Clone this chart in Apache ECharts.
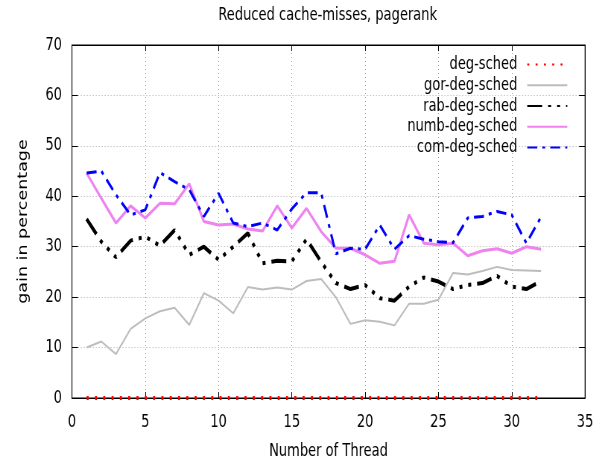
<!DOCTYPE html>
<html>
<head>
<meta charset="utf-8">
<script src="https://cdn.jsdelivr.net/npm/echarts@6/dist/echarts.min.js"></script>
<style>
html,body{margin:0;padding:0;background:#fff;overflow:hidden;}
#wrap{width:602px;height:461px;overflow:hidden;position:relative;}
#chart{width:808px;height:461px;position:absolute;left:0;top:0;transform:scaleX(0.74505);transform-origin:0 0;}
</style>
</head>
<body>
<div id="wrap"><div id="chart"></div></div>
<script>
var threads = [1,2,3,4,5,6,7,8,9,10,11,12,13,14,15,16,17,18,19,20,21,22,23,24,25,26,27,28,29,30,31,32];
var degSched = [0,0,0,0,0,0,0,0,0,0,0,0,0,0,0,0,0,0,0,0,0,0,0,0,0,0,0,0,0,0,0,0];
var gorDegSched = [10.0,11.2,8.7,13.7,15.8,17.2,17.9,14.5,20.8,19.3,16.8,22.0,21.5,21.9,21.5,23.2,23.6,20.0,14.7,15.4,15.1,14.4,18.7,18.7,19.5,24.8,24.5,25.2,26.0,25.4,25.3,25.2];
var rabDegSched = [35.5,31.0,27.9,31.2,32.0,30.2,33.3,28.4,30.0,27.4,30.0,32.7,26.7,27.2,27.1,31.5,27.0,22.8,21.6,22.4,19.8,19.3,22.1,23.9,23.1,21.6,22.4,22.8,24.2,22.1,21.6,23.2];
var numbDegSched = [44.6,39.6,34.7,38.1,35.7,38.6,38.5,42.5,35.0,34.3,34.5,33.5,33.1,38.1,33.7,37.6,33.0,29.7,29.7,28.4,26.7,27.1,36.3,30.7,30.4,30.7,28.2,29.2,29.6,28.7,30.0,29.5];
var comDegSched = [44.6,45.0,40.3,36.3,37.3,44.7,42.9,41.3,36.0,40.6,34.7,34.0,34.7,33.3,37.5,40.7,40.7,28.6,29.7,29.5,34.3,29.5,32.2,31.5,31.0,30.8,35.7,36.0,37.0,36.3,30.7,35.9];
var seriesNames = ['deg-sched','gor-deg-sched','rab-deg-sched','numb-deg-sched','com-deg-sched'];

function pairs(vals){ return threads.map(function(t,i){ return [t, vals[i]]; }); }

var font = "'DejaVu Sans', sans-serif";
var fs = 17.5;
var chart = echarts.init(document.getElementById('chart'), null, {renderer:'canvas', width:808, height:461});
var splitStyle = {show:true, lineStyle:{color:'#a0a0a0', type:[1,3], width:1}};
chart.setOption({
  animation:false,
  backgroundColor:'#fff',
  title:{
    text:'Reduced cache-misses, pagerank',
    left:293, top:6, padding:0,
    textStyle:{fontFamily:font, fontSize:fs, fontWeight:'normal', color:'#000'}
  },
  legend:{
    data:seriesNames,
    orient:'vertical', align:'right',
    right:45.6, top:54, padding:0,
    itemWidth:53.7, itemHeight:14, itemGap:0,
    itemStyle:{opacity:0},
    textStyle:{fontFamily:font, fontSize:fs, color:'#000', lineHeight:20.8, padding:[0,8.4,0,0]}
  },
  grid:{left:96.6, right:22.8, top:45, bottom:63, show:true, borderColor:'#000', borderWidth:1,
        containLabel:false, outerBoundsMode:'none'},
  xAxis:[{
    type:'value', min:0, max:35, interval:5,
    name:'Number of Thread', nameLocation:'middle', nameGap:44,
    nameTextStyle:{fontFamily:font, fontSize:fs, color:'#000'},
    axisLine:{show:true, onZero:false, lineStyle:{color:'#000', width:1}},
    axisTick:{show:true, inside:true, length:6, lineStyle:{color:'#000'}},
    axisLabel:{fontFamily:font, fontSize:fs, color:'#000', margin:15},
    splitLine:splitStyle
  },{
    type:'value', min:0, max:35, interval:5, position:'top',
    axisLine:{show:true, onZero:false, lineStyle:{color:'#000', width:1}},
    axisTick:{show:true, inside:true, length:6, lineStyle:{color:'#000'}},
    axisLabel:{show:false}, splitLine:{show:false}
  }],
  yAxis:[{
    type:'value', min:0, max:70, interval:10,
    name:'gain in percentage', nameLocation:'middle', nameGap:56, nameRotate:90,
    nameTextStyle:{fontFamily:font, fontSize:fs, color:'#000'},
    axisLine:{show:true, onZero:false, lineStyle:{color:'#000', width:1}},
    axisTick:{show:true, inside:true, length:8, lineStyle:{color:'#000'}},
    axisLabel:{fontFamily:font, fontSize:fs, color:'#000', margin:13.4},
    splitLine:splitStyle
  },{
    type:'value', min:0, max:70, interval:10, position:'right',
    axisLine:{show:true, onZero:false, lineStyle:{color:'#000', width:1}},
    axisTick:{show:true, inside:true, length:8, lineStyle:{color:'#000'}},
    axisLabel:{show:false}, splitLine:{show:false}
  }],
  series:[
    {name:'deg-sched', type:'line', data:pairs(degSched), symbol:'none', clip:false,
     color:'#ff0000', lineStyle:{color:'#ff0000', width:4, type:[2.7,8.45]}},
    {name:'gor-deg-sched', type:'line', data:pairs(gorDegSched), symbol:'none',
     color:'#bdbdbd', lineStyle:{color:'#bdbdbd', width:2, type:'solid'}},
    {name:'rab-deg-sched', type:'line', data:pairs(rabDegSched), symbol:'none',
     color:'#000', lineStyle:{color:'#000', width:4, type:[20,8,4,8,4,8,4,8]}},
    {name:'numb-deg-sched', type:'line', data:pairs(numbDegSched), symbol:'none',
     color:'#ee82ee', lineStyle:{color:'#ee82ee', width:3, type:'solid'}},
    {name:'com-deg-sched', type:'line', data:pairs(comDegSched), symbol:'none',
     color:'#0000ff', lineStyle:{color:'#0000ff', width:3, type:[13.4,6.7,4,6.7]}}
  ]
});
</script>
</body>
</html>
